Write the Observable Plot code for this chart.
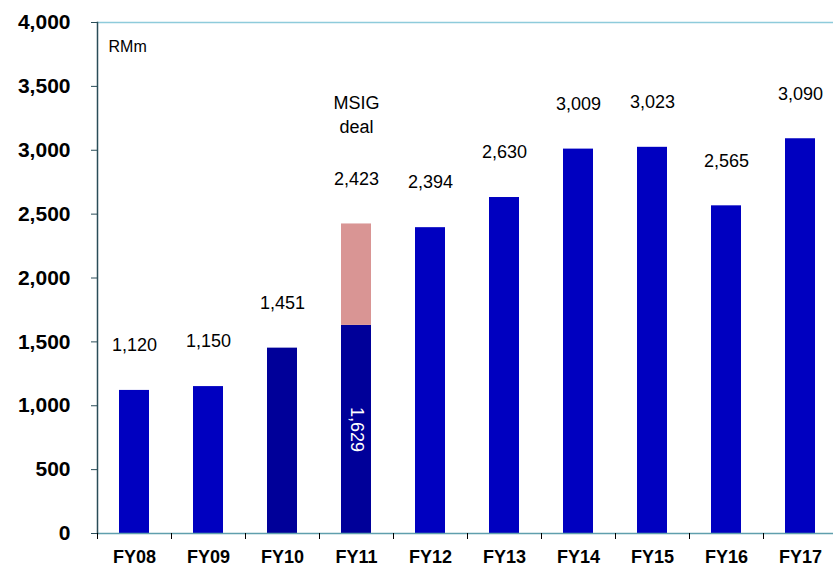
<!DOCTYPE html>
<html>
<head>
<meta charset="utf-8">
<script src="https://cdn.jsdelivr.net/npm/d3@7"></script>
<script src="https://cdn.jsdelivr.net/npm/@observablehq/plot@0.6"></script>
<style>
  html, body { margin: 0; padding: 0; background: #fff; }
  #chart svg { display: block; }
</style>
</head>
<body>
<div id="chart"></div>
<script>
const years = ["FY08", "FY09", "FY10", "FY11", "FY12", "FY13", "FY14", "FY15", "FY16", "FY17"];
const totals = [1120, 1150, 1451, 2423, 2394, 2630, 3009, 3023, 2565, 3090];
const organicFY11 = 1629;           // FY11 excluding MSIG deal
const yTicks = [0, 500, 1000, 1500, 2000, 2500, 3000, 3500, 4000];
const darkYears = ["FY10", "FY11"];

const colors = { regular: "#0000c0", dark: "#000099", msig: "#d99594" };

const segments = [];
years.forEach((yr, i) => {
  if (yr === "FY11") {
    segments.push({ year: yr, y1: 0, y2: organicFY11, kind: "dark" });
    segments.push({ year: yr, y1: organicFY11, y2: totals[i], kind: "msig" });
  } else {
    segments.push({ year: yr, y1: 0, y2: totals[i], kind: darkYears.includes(yr) ? "dark" : "regular" });
  }
});
const labels = years.map((yr, i) => ({ year: yr, value: totals[i] }));
const fmt = d3.format(",");

const chart = Plot.plot({
  width: 833,
  height: 567,
  marginTop: 22,
  marginBottom: 34,
  marginLeft: 97,
  marginRight: 0,
  style: { fontFamily: "'Liberation Sans', Arial, sans-serif", color: "#000", background: "#fff" },
  x: { domain: years, range: [97, 837], paddingInner: 0.595, paddingOuter: 0.2975, label: null },
  y: { domain: [0, 4000], label: null },
  marks: [
    Plot.rectY(segments, { x: "year", y1: "y1", y2: "y2", fill: d => colors[d.kind] }),
    Plot.frame({ anchor: "top", stroke: "#8ecbdb", strokeWidth: 1.5 }),
    Plot.ruleY([0], { stroke: "#5f9fad", strokeWidth: 1.5 }),
    Plot.frame({ anchor: "left", stroke: "#2a4d58", strokeWidth: 1.5 }),
    Plot.ruleX(years, { x: d => d, y1: 0, y2: 0, insetBottom: -6, dx: -37, stroke: "#000" }),
    Plot.axisY({ ticks: yTicks, tickFormat: d => fmt(d), tickSize: 6, tickPadding: 21, fontSize: 21, fontWeight: "bold", label: null, stroke: "#2a4d58" }),
    Plot.axisX({ tickSize: 0, tickPadding: 17, fontSize: 18, fontWeight: "bold", label: null }),
    Plot.text(labels, { x: "year", y: "value", text: d => fmt(d.value), dy: -45, fontSize: 18, fill: "#000" }),
    Plot.text([{ year: "FY11", value: totals[3] }], { x: "year", y: "value", text: () => "MSIG\ndeal", dy: -111, lineHeight: 1.35, fontSize: 18, fill: "#000" }),
    Plot.text([{ year: "FY11", value: organicFY11 }], { x: "year", y: d => d.value / 2, text: d => fmt(d.value), rotate: 90, fontSize: 18, fill: "#fff" }),
    Plot.text(["RMm"], { frameAnchor: "top-left", text: d => d, dx: 11, dy: 18, fontSize: 16, fill: "#000" })
  ]
});
document.getElementById("chart").appendChild(chart);
</script>
</body>
</html>
